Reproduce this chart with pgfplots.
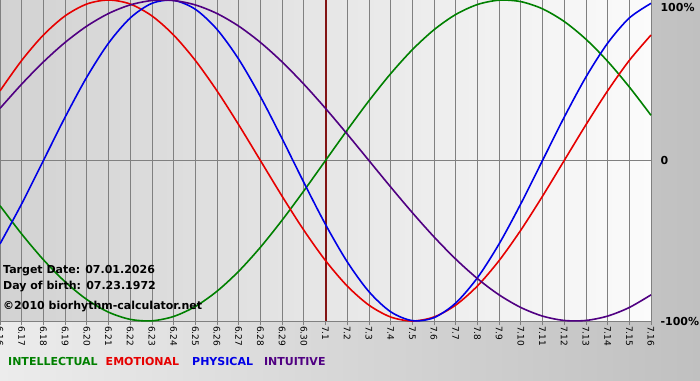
\documentclass[border=0pt]{standalone}
\usepackage{pgfplots}
\pgfplotsset{compat=1.18}
\usepackage{fontspec}
\setmainfont{DejaVu Sans}
\definecolor{cgreen}{RGB}{0,128,0}
\definecolor{cred}{RGB}{230,0,0}
\definecolor{cblue}{RGB}{0,0,230}
\definecolor{cpurple}{RGB}{80,0,130}
\definecolor{cline}{RGB}{130,20,20}
\definecolor{cgrid}{RGB}{128,128,128}
\pgfplotstableread{
d phys emot intel intu
0 -0.5196 0.4339 -0.2817 0.3247
1 -0.2698 0.6235 -0.4582 0.4759
2 0 0.7818 -0.6182 0.6142
3 0.2698 0.9010 -0.7557 0.7357
4 0.5196 0.9749 -0.8660 0.8372
5 0.7308 1 -0.9450 0.9158
6 0.8879 0.9749 -0.9898 0.9694
7 0.9791 0.9010 -0.9989 0.9966
8 0.9977 0.7818 -0.9718 0.9966
9 0.9423 0.6235 -0.9096 0.9694
10 0.8170 0.4339 -0.8146 0.9158
11 0.6311 0.2225 -0.6901 0.8372
12 0.3984 0 -0.5406 0.7357
13 0.1362 -0.2225 -0.3717 0.6142
14 -0.1362 -0.4339 -0.1893 0.4759
15 -0.3984 -0.6235 0 0.3247
16 -0.6311 -0.7818 0.1893 0.1646
17 -0.8170 -0.9010 0.3717 0
18 -0.9423 -0.9749 0.5406 -0.1646
19 -0.9977 -1 0.6901 -0.3247
20 -0.9791 -0.9749 0.8146 -0.4759
21 -0.8879 -0.9010 0.9096 -0.6142
22 -0.7308 -0.7818 0.9718 -0.7357
23 -0.5196 -0.6235 0.9989 -0.8372
24 -0.2698 -0.4339 0.9898 -0.9158
25 0 -0.2225 0.9450 -0.9694
26 0.2698 0 0.8660 -0.9966
27 0.5196 0.2225 0.7557 -0.9966
28 0.7308 0.4339 0.6182 -0.9694
29 0.8879 0.6235 0.4582 -0.9158
30 0.9791 0.7818 0.2817 -0.8372
}\bio
\begin{document}
\begin{tikzpicture}[x=1pt,y=1pt]
\useasboundingbox (0,0) rectangle (700,380);
\shade[left color={rgb,255:red,236;green,236;blue,236}, right color={rgb,255:red,192;green,192;blue,192}] (0,0) rectangle (700,380);
\begin{axis}[
  at={(0pt,59pt)}, anchor=south west,
  width=651pt, height=321pt, scale only axis,
  xmin=0, xmax=30, ymin=-1, ymax=1,
  axis background/.style={shade, left color={rgb,255:red,210;green,210;blue,210}, right color={rgb,255:red,251;green,251;blue,251}},
  axis x line=bottom, axis y line=right,
  x axis line style={-, draw=cgrid, line width=0.8pt},
  y axis line style={-, draw=none},
  xtick={0,...,30},
  xticklabels={6.16,6.17,6.18,6.19,6.20,6.21,6.22,6.23,6.24,6.25,6.26,6.27,6.28,6.29,6.30,7.1,7.2,7.3,7.4,7.5,7.6,7.7,7.8,7.9,7.10,7.11,7.12,7.13,7.14,7.15,7.16},
  xticklabel style={rotate=-90, anchor=west, font=\fontsize{9}{10}\selectfont, inner sep=1pt},
  xtick style={draw=cgrid, line width=0.8pt},
  tick align=outside, major tick length=4pt,
  xmajorgrids, major grid style={draw=cgrid, line width=0.8pt},
  ytick={-1,0,0.955},
  yticklabels={-100\%,0,100\%},
  ytick style={draw=none},
  yticklabel style={anchor=west, font=\bfseries\fontsize{11}{12}\selectfont, xshift=2pt},
  clip=false,
]
\draw[cgrid, line width=0.8pt] (axis cs:0,0) -- (axis cs:30,0);
\draw[cline, line width=2pt] (axis cs:15,-1) -- (axis cs:15,1);
\addplot[cgreen, line width=1.6pt, smooth, no markers] table[x=d,y=intel] {\bio};
\addplot[cred, line width=1.6pt, smooth, no markers] table[x=d,y=emot] {\bio};
\addplot[cblue, line width=1.6pt, smooth, no markers] table[x=d,y=phys] {\bio};
\addplot[cpurple, line width=1.6pt, smooth, no markers] table[x=d,y=intu] {\bio};
\end{axis}
\node[anchor=west, inner sep=0pt, font=\bfseries\fontsize{11}{12}\selectfont] at (3,109) {Target Date: 07.01.2026};
\node[anchor=west, inner sep=0pt, font=\bfseries\fontsize{11}{12}\selectfont] at (3,93) {Day of birth: 07.23.1972};
\node[anchor=west, inner sep=0pt, font=\bfseries\fontsize{11}{12}\selectfont] at (3,73) {©2010 biorhythm-calculator.net};
\node[anchor=west, inner sep=0pt, font=\bfseries\fontsize{11}{12}\selectfont] at (8,19) {\textcolor{cgreen}{INTELLECTUAL}\hspace{8pt}\textcolor{cred}{EMOTIONAL}\hspace{13pt}\textcolor{cblue}{PHYSICAL}\hspace{11pt}\textcolor{cpurple}{INTUITIVE}};
\end{tikzpicture}
\end{document}
